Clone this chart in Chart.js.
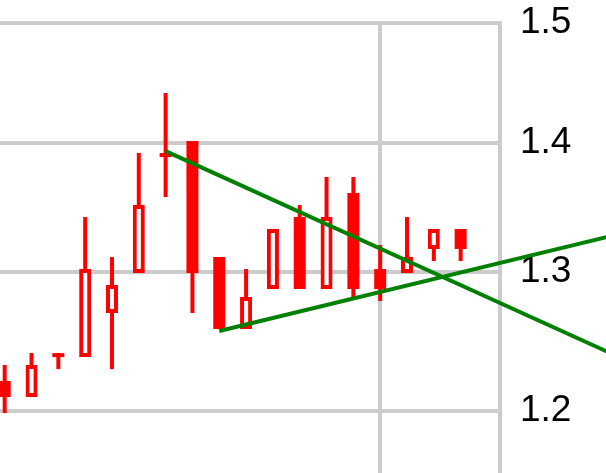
<!DOCTYPE html>
<html>
<head>
<meta charset="utf-8">
<script src="https://cdn.jsdelivr.net/npm/chart.js@4.4.1/dist/chart.umd.min.js"></script>
<style>
  html, body { margin: 0; padding: 0; background: #ffffff; overflow: hidden; }
  #wrap { width: 606px; height: 473px; position: relative; }
</style>
</head>
<body>
<div id="wrap"><canvas id="c" width="606" height="473"></canvas></div>
<script>
// ---- data ----
const candleIndex = [0, 1, 2, 3, 4, 5, 6, 7, 8, 9, 10, 11, 12, 13, 14, 15, 16, 17];
const openVals  = [1.2209, 1.2097, 1.2378, 1.2378, 1.2696, 1.2991, 1.3887, 1.4016, 1.3111, 1.2580, 1.2872, 1.3416, 1.2872, 1.3603, 1.3021, 1.2991, 1.3172, 1.3324];
const highVals  = [1.2322, 1.2407, 1.2407, 1.3416, 1.3111, 1.3920, 1.4408, 1.4016, 1.3111, 1.3021, 1.3324, 1.3509, 1.3729, 1.3729, 1.3202, 1.3416, 1.3324, 1.3324];
const lowVals   = [1.1986, 1.2097, 1.2293, 1.2378, 1.2293, 1.2991, 1.3572, 1.2696, 1.2580, 1.2580, 1.2872, 1.2872, 1.2872, 1.2813, 1.2784, 1.2991, 1.3081, 1.3081];
const closeVals = [1.2097, 1.2322, 1.2378, 1.3021, 1.2902, 1.3509, 1.3887, 1.2991, 1.2580, 1.2813, 1.3324, 1.2872, 1.3416, 1.2872, 1.2872, 1.3111, 1.3324, 1.3172];

// trend lines: anchor points (candle index, price)
const trendDownX = [6, 23];
const trendDownY = [1.3935, 1.2370];
const trendUpX   = [8, 23];
const trendUpY   = [1.2565, 1.3290];

const yTickVals = [1.2, 1.3, 1.4, 1.5];
const xGridAt   = [14];
const xRange = [-0.175, 18.467];
const yRange = [1.158, 1.5];

// ---- build datasets ----
const RED = '#ff0000';
const GREEN = '#008000';
const GRID = '#cccccc';

const isUp = candleIndex.map((_, i) => closeVals[i] > openVals[i]);

const bodyData = candleIndex.map((x, i) => ({ x: x, y: [Math.min(openVals[i], closeVals[i]), Math.max(openVals[i], closeVals[i])] }));
const wickData = candleIndex.map((x, i) => ({ x: x, y: [lowVals[i], highVals[i]] }));

const trendDown = trendDownX.map((x, i) => ({ x: x, y: trendDownY[i] }));
const trendUp = trendUpX.map((x, i) => ({ x: x, y: trendUpY[i] }));

new Chart(document.getElementById('c'), {
  type: 'bar',
  data: {
    datasets: [
      {
        type: 'line', data: trendDown, order: 0,
        borderColor: GREEN, borderWidth: 4, pointRadius: 0, fill: false, tension: 0, clip: false
      },
      {
        type: 'line', data: trendUp, order: 0,
        borderColor: GREEN, borderWidth: 4, pointRadius: 0, fill: false, tension: 0, clip: false
      },
      {
        type: 'bar', data: bodyData, order: 1, grouped: false,
        barThickness: 12, minBarLength: 4, borderSkipped: false, inflateAmount: 0,
        backgroundColor: ctx => isUp[ctx.dataIndex] ? '#ffffff' : RED,
        borderColor: RED,
        borderWidth: ctx => isUp[ctx.dataIndex] ? 4 : 0
      },
      {
        type: 'bar', data: wickData, order: 2, grouped: false,
        barThickness: 4, borderSkipped: false, inflateAmount: 0,
        backgroundColor: RED, borderWidth: 0
      }
    ]
  },
  options: {
    responsive: false,
    animation: false,
    devicePixelRatio: 1,
    events: [],
    layout: { padding: { top: 23, left: 0, right: 0, bottom: 0 } },
    plugins: { legend: { display: false }, tooltip: { enabled: false } },
    scales: {
      x: {
        type: 'linear',
        min: xRange[0], max: xRange[1],
        bounds: 'data',
        offset: false,
        grid: { display: true, offset: false, color: GRID, lineWidth: 4, drawTicks: false },
        border: { display: false },
        ticks: { display: false },
        afterBuildTicks: s => { s.ticks = xGridAt.map(v => ({ value: v })); },
        afterFit: s => { s.height = 0; s.paddingLeft = 0; s.paddingRight = 0; }
      },
      y: {
        type: 'logarithmic',
        position: 'right',
        min: yRange[0], max: yRange[1],
        bounds: 'data',
        grid: { color: GRID, lineWidth: 4, drawTicks: false },
        border: { display: true, color: GRID, width: 4 },
        ticks: {
          padding: 20,
          color: '#000000',
          font: { family: '"Liberation Sans", Arial, sans-serif', size: 37 },
          autoSkip: false,
          callback: v => Number(v).toFixed(1)
        },
        afterBuildTicks: s => { s.ticks = yTickVals.map(v => ({ value: v })); },
        afterFit: s => { s.width = 106; s.paddingTop = 0; s.paddingBottom = 0; }
      }
    }
  }
});
</script>
</body>
</html>
